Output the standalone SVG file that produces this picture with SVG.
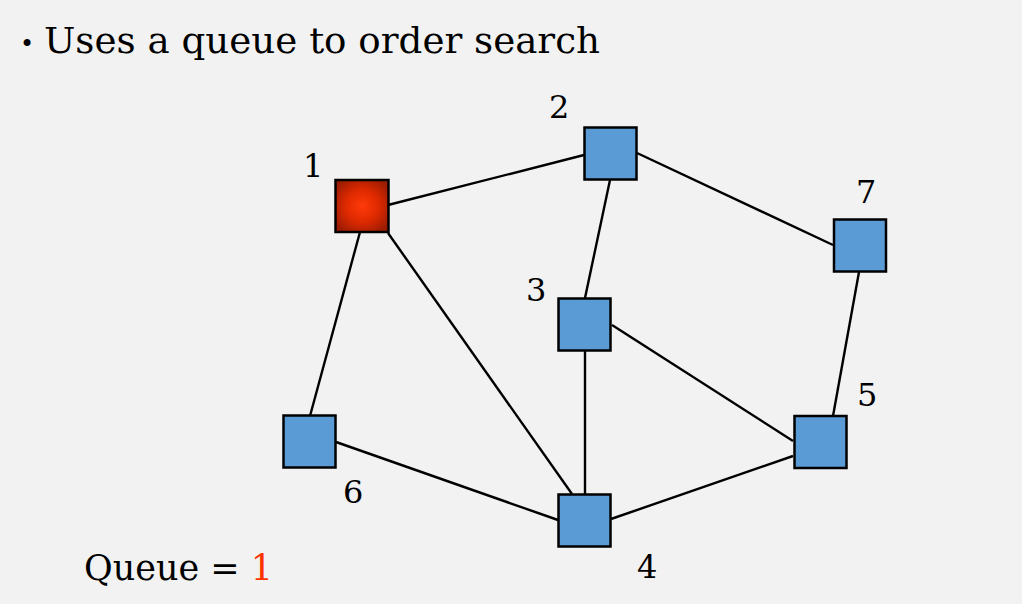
<svg xmlns="http://www.w3.org/2000/svg" width="1022" height="604" viewBox="0 0 1022 604">
<style>
text{font-family:"DejaVu Serif","Liberation Serif",serif;fill:#000}
.t{font-size:35px}
.lbl{font-size:32px}
.node{fill:#5b9bd5;stroke:#000;stroke-width:2.5}
.edge{stroke:#000;stroke-width:2.4;fill:none}
</style>
<defs>
<radialGradient id="red" cx="50%" cy="50%" r="60%">
<stop offset="0" stop-color="#ff3a0a"/>
<stop offset="0.5" stop-color="#e02a00"/>
<stop offset="1" stop-color="#9c1c00"/>
</radialGradient>
</defs>
<rect width="1022" height="604" fill="#f2f2f2"/>
<text x="20" y="52" style="font-size:24px">•</text>
<text class="t" x="44" y="53" textLength="556" lengthAdjust="spacingAndGlyphs">Uses a queue to order search</text>
<g id="edges">
<line class="edge" x1="388" y1="205" x2="584" y2="155"/>
<line class="edge" x1="360" y1="232" x2="310" y2="416"/>
<line class="edge" x1="388" y1="233" x2="572" y2="494"/>
<line class="edge" x1="610" y1="180" x2="585" y2="298"/>
<line class="edge" x1="637" y1="153" x2="833" y2="245"/>
<line class="edge" x1="585" y1="351" x2="585" y2="494"/>
<line class="edge" x1="612" y1="325" x2="793" y2="441"/>
<line class="edge" x1="859" y1="272" x2="833" y2="416"/>
<line class="edge" x1="336" y1="442" x2="558" y2="520"/>
<line class="edge" x1="611" y1="519" x2="793" y2="456"/>
</g>
<g id="n1"><rect x="335.5" y="180" width="53" height="52" fill="url(#red)" stroke="#000" stroke-width="2.5"/><text class="lbl" x="303" y="177">1</text></g>
<g id="n2"><rect class="node" x="584.5" y="127.5" width="52" height="52"/><text class="lbl" x="549" y="118">2</text></g>
<g id="n3"><rect class="node" x="558.5" y="298.5" width="52" height="52"/><text class="lbl" x="526" y="301">3</text></g>
<g id="n4"><rect class="node" x="558.5" y="494.5" width="52" height="52"/><text class="lbl" x="637" y="578">4</text></g>
<g id="n5"><rect class="node" x="794.5" y="416" width="52" height="52"/><text class="lbl" x="857" y="406">5</text></g>
<g id="n6"><rect class="node" x="283.5" y="415.5" width="52" height="52"/><text class="lbl" x="343" y="503">6</text></g>
<g id="n7"><rect class="node" x="834" y="219.5" width="52" height="52"/><text class="lbl" x="856" y="203">7</text></g>
<text class="t" x="84" y="580">Queue = <tspan fill="#ff3300">1</tspan></text>
</svg>
